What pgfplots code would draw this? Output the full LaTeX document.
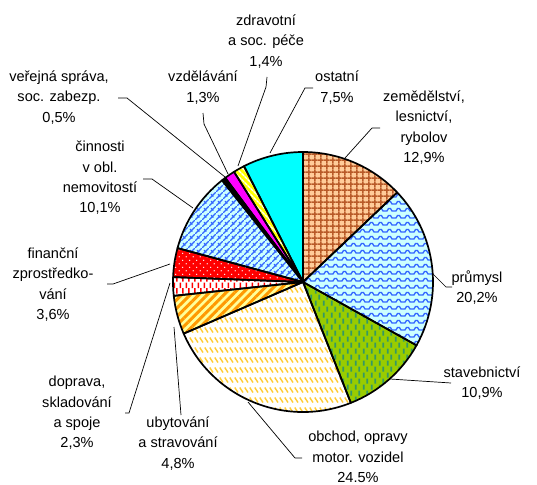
\documentclass[border=0pt]{standalone}
\usepackage{fontspec}
\setmainfont{Liberation Sans}
\usepackage{pgfplots}
\pgfplotsset{compat=1.18}
\usepackage{pgfplotstable}
\usetikzlibrary{patterns,patterns.meta}

\definecolor{peach}{HTML}{FFCC99}
\definecolor{brownline}{HTML}{B85A28}
\definecolor{lcyan}{HTML}{CCFFFF}
\definecolor{wblue}{HTML}{3366FF}
\definecolor{ygreen}{HTML}{99CC00}
\definecolor{dgreen}{HTML}{339966}
\definecolor{goldd}{HTML}{FFCC33}
\definecolor{orng}{HTML}{FF9900}
\definecolor{lyel}{HTML}{FFFF99}
\definecolor{cyanx}{HTML}{00FFFF}
\definecolor{magx}{HTML}{FF00FF}
\definecolor{yelx}{HTML}{FFFF00}
\definecolor{redx}{HTML}{FF0000}

\pgfdeclarepatternformonly{pgrid}{\pgfqpoint{0pt}{0pt}}{\pgfqpoint{5.8pt}{5.8pt}}{\pgfqpoint{5.8pt}{5.8pt}}{%
  \pgfsetlinewidth{1.5pt}%
  \pgfpathmoveto{\pgfqpoint{2.9pt}{0pt}}\pgfpathlineto{\pgfqpoint{2.9pt}{5.8pt}}%
  \pgfpathmoveto{\pgfqpoint{0pt}{2.9pt}}\pgfpathlineto{\pgfqpoint{5.8pt}{2.9pt}}%
  \pgfusepath{stroke}}
\pgfdeclarepatternformonly{pwave}{\pgfqpoint{0pt}{0pt}}{\pgfqpoint{9pt}{7pt}}{\pgfqpoint{9pt}{7pt}}{%
  \pgfsetlinewidth{1.3pt}%
  \pgfpathmoveto{\pgfqpoint{0pt}{2pt}}\pgfpathlineto{\pgfqpoint{2pt}{2pt}}%
  \pgfpathlineto{\pgfqpoint{3.5pt}{4.5pt}}\pgfpathlineto{\pgfqpoint{5.5pt}{4.5pt}}%
  \pgfpathlineto{\pgfqpoint{7pt}{2pt}}\pgfpathlineto{\pgfqpoint{9pt}{2pt}}%
  \pgfusepath{stroke}}
\pgfdeclarepatternformonly{pweave}{\pgfqpoint{0pt}{0pt}}{\pgfqpoint{7pt}{7pt}}{\pgfqpoint{7pt}{7pt}}{%
  \pgfsetlinewidth{1.1pt}%
  \pgfpathmoveto{\pgfqpoint{0pt}{0pt}}\pgfpathlineto{\pgfqpoint{7pt}{7pt}}%
  \pgfpathmoveto{\pgfqpoint{2pt}{5pt}}\pgfpathlineto{\pgfqpoint{4.5pt}{2.5pt}}%
  \pgfusepath{stroke}}
\pgfdeclarepatternformonly{pgdash}{\pgfqpoint{0pt}{0pt}}{\pgfqpoint{7.5pt}{12pt}}{\pgfqpoint{7.5pt}{12pt}}{%
  \pgfsetlinewidth{1.8pt}%
  \pgfpathmoveto{\pgfqpoint{1.9pt}{0.5pt}}\pgfpathlineto{\pgfqpoint{1.9pt}{5.5pt}}%
  \pgfpathmoveto{\pgfqpoint{5.6pt}{6.5pt}}\pgfpathlineto{\pgfqpoint{5.6pt}{11.5pt}}%
  \pgfusepath{stroke}}
\pgfdeclarepatternformonly{pgold}{\pgfqpoint{0pt}{0pt}}{\pgfqpoint{5pt}{10pt}}{\pgfqpoint{5pt}{10pt}}{%
  \pgfsetlinewidth{1.4pt}%
  \pgfpathmoveto{\pgfqpoint{0.8pt}{8.5pt}}\pgfpathlineto{\pgfqpoint{4pt}{3.5pt}}%
  \pgfusepath{stroke}}
\pgfdeclarepatternformonly{prdash}{\pgfqpoint{0pt}{0pt}}{\pgfqpoint{5.6pt}{12pt}}{\pgfqpoint{5.6pt}{12pt}}{%
  \pgfsetlinewidth{1.6pt}%
  \pgfpathmoveto{\pgfqpoint{1.4pt}{6pt}}\pgfpathlineto{\pgfqpoint{1.4pt}{11.5pt}}%
  \pgfpathmoveto{\pgfqpoint{4.2pt}{0.5pt}}\pgfpathlineto{\pgfqpoint{4.2pt}{6pt}}%
  \pgfusepath{stroke}}
\pgfdeclarepatternformonly{pdots}{\pgfqpoint{0pt}{0pt}}{\pgfqpoint{7pt}{7pt}}{\pgfqpoint{7pt}{7pt}}{%
  \pgfpathcircle{\pgfqpoint{1.75pt}{1.75pt}}{0.75pt}%
  \pgfpathcircle{\pgfqpoint{5.25pt}{5.25pt}}{0.75pt}%
  \pgfusepath{fill}}

\tikzset{
  s0/.style={fill=peach, postaction={pattern=pgrid, pattern color=brownline}},
  s1/.style={fill=lcyan, postaction={pattern=pwave, pattern color=wblue}},
  s2/.style={fill=ygreen, postaction={pattern=pgdash, pattern color=dgreen}},
  s3/.style={fill=white, postaction={pattern=pgold, pattern color=goldd}},
  s4/.style={fill=lyel, postaction={pattern={Lines[angle=45,distance=6pt,line width=3pt]}, pattern color=orng}},
  s5/.style={fill=white, postaction={pattern=prdash, pattern color=redx}},
  s6/.style={fill=redx, postaction={pattern=pdots, pattern color=white}},
  s7/.style={fill=lcyan, postaction={pattern=pweave, pattern color=wblue}},
  s8/.style={fill=black},
  s9/.style={fill=magx},
  s10/.style={fill=yelx, postaction={pattern={Lines[angle=-45,distance=4pt,line width=1.4pt]}, pattern color=white}},
  s11/.style={fill=cyanx},
  lbl/.style={align=center, inner sep=0pt, font=\fontsize{14.6}{20.4}\selectfont},
}

% shares of sectors (%), clockwise from 12 o'clock
\pgfplotstableread{
sector pct
zemedelstvi 12.9
prumysl 20.2
stavebnictvi 10.9
obchod 24.5
ubytovani 4.8
doprava 2.3
financni 3.6
nemovitosti 10.1
verejna 0.5
vzdelavani 1.3
zdravotni 1.4
ostatni 7.5
}\piedata

\def\cum{0}
\pgfplotsforeachungrouped \i in {0,...,11}{%
  \pgfplotstablegetelem{\i}{pct}\of\piedata
  \pgfmathsetmacro\sa{90-3.6*\cum}%
  \pgfmathsetmacro\cum{\cum+\pgfplotsretval}%
  \pgfmathsetmacro\ea{90-3.6*\cum}%
  \expandafter\xdef\csname sa\i\endcsname{\sa}%
  \expandafter\xdef\csname ea\i\endcsname{\ea}%
}
\newcommand\slicepath[1]{(axis cs:303,282) -- ++(\csname sa#1\endcsname:130bp) arc[start angle=\csname sa#1\endcsname, end angle=\csname ea#1\endcsname, radius=130bp] -- cycle}

\begin{document}
\begin{tikzpicture}
\begin{axis}[
  width=537bp, height=485bp, scale only axis,
  xmin=0, xmax=537, ymin=0, ymax=485, y dir=reverse,
  hide axis, clip=false,
]
\path (axis cs:0,0) rectangle (axis cs:537,485);
% leader lines
\pgfplotsset{leader/.style={black, line width=0.7bp, no marks, forget plot}}
\addplot[leader] coordinates {(380,128) (372,128) (345,158)};
\addplot[leader] coordinates {(313,88) (305,88) (270,153)};
\addplot[leader] coordinates {(267,77) (266,87) (238,166)};
\addplot[leader] coordinates {(203,113) (204,124) (228,174)};
\addplot[leader] coordinates {(118,98) (127,98) (225,177)};
\addplot[leader] coordinates {(143,179) (152,179) (193,208)};
\addplot[leader] coordinates {(107,284) (113,284) (170,264)};
\addplot[leader] coordinates {(125,413) (129,413) (170,283)};
\addplot[leader] coordinates {(181,415) (174,327)};
\addplot[leader] coordinates {(302,458) (295,458) (248,402)};
\addplot[leader] coordinates {(451,383) (390,379)};
\addplot[leader] coordinates {(452,287) (446,287) (421,262)};
% slices
\pgfplotsinvokeforeach{0,...,11}{
  \fill[s#1] \slicepath{#1};
}
\pgfplotsinvokeforeach{0,...,11}{
  \draw[black, line width=1.7bp, line join=round] \slicepath{#1};
}
% labels
\node[lbl] at (axis cs:266,41.5) {zdravotní\\a soc. péče\\1,4\%};
\node[lbl] at (axis cs:59,97.5) {veřejná správa,\\soc. zabezp.\\0,5\%};
\node[lbl] at (axis cs:203,87.5) {vzdělávání\\1,3\%};
\node[lbl] at (axis cs:337,87.5) {ostatní\\7,5\%};
\node[lbl] at (axis cs:424,127.5) {zemědělství,\\lesnictví,\\rybolov\\12,9\%};
\node[lbl] at (axis cs:100,178) {činnosti\\v obl.\\nemovitostí\\10,1\%};
\node[lbl] at (axis cs:53,284.5) {finanční\\zprostředko-\\vání\\3,6\%};
\node[lbl] at (axis cs:477,287.5) {průmysl\\20,2\%};
\node[lbl] at (axis cs:482,383) {stavebnictví\\10,9\%};
\node[lbl] at (axis cs:77,413) {doprava,\\skladování\\a spoje\\2,3\%};
\node[lbl] at (axis cs:178,443.5) {ubytování\\a stravování\\4,8\%};
\node[lbl] at (axis cs:358,457) {obchod, opravy\\motor. vozidel\\24.5\%};
\end{axis}
\end{tikzpicture}
\end{document}
